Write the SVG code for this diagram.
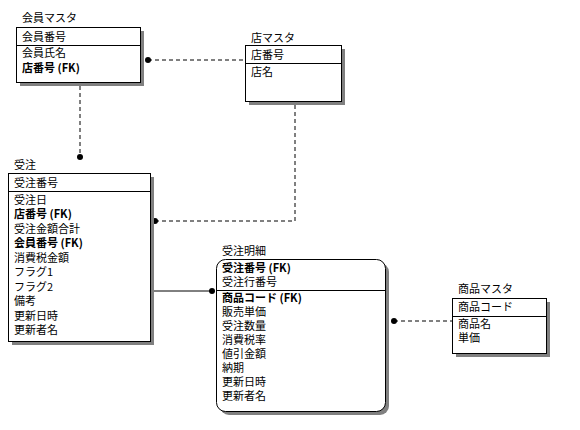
<svg xmlns="http://www.w3.org/2000/svg" width="580" height="430" viewBox="0 0 580 430">
<style>
text{font-family:"Noto Sans CJK JP","Liberation Sans",sans-serif;font-size:11px;fill:#000}
.b{font-weight:bold}
.box{fill:#fff;stroke:#000;stroke-width:1}
.sh{fill:#808080}
.dv{stroke:#000;stroke-width:1}
.dash{stroke:#000;stroke-width:1;stroke-dasharray:4,3;fill:none}
.solid{stroke:#000;stroke-width:1;fill:none}
</style>
<rect width="580" height="430" fill="#fff"/>
<g id="connectors">
<line class="dash" x1="148" y1="60" x2="245" y2="60"/><circle cx="148" cy="60" r="3"/>
<line class="dash" x1="80" y1="86" x2="80" y2="157"/><circle cx="80" cy="157" r="3"/>
<polyline class="dash" points="295,105 295,221 155,221"/><circle cx="155" cy="221" r="3"/>
<line class="solid" x1="150" y1="291" x2="212" y2="291"/><circle cx="212" cy="291" r="3"/>
<line class="dash" x1="394" y1="321" x2="452" y2="321"/><circle cx="394" cy="321" r="3"/>
</g>
<g id="kaiin">
<text x="22" y="22">会員マスタ</text>
<rect class="sh" x="20" y="31" width="124" height="55"/>
<rect class="box" x="16.5" y="27.5" width="124" height="55"/>
<line class="dv" x1="16.5" y1="45.5" x2="140.5" y2="45.5"/>
<text x="22" y="41">会員番号</text>
<text x="22" y="57">会員氏名</text>
<text x="22" y="72" class="b">店番号 (FK)</text>
</g>
<g id="mise">
<text x="251" y="42">店マスタ</text>
<rect class="sh" x="249" y="49" width="96" height="56"/>
<rect class="box" x="245.5" y="45.5" width="96" height="56"/>
<line class="dv" x1="245.5" y1="63.5" x2="341.5" y2="63.5"/>
<text x="251" y="59">店番号</text>
<text x="251" y="76">店名</text>
</g>
<g id="juchu">
<text x="14" y="169">受注</text>
<rect class="sh" x="12" y="177" width="142" height="168"/>
<rect class="box" x="8.5" y="173.5" width="142" height="168"/>
<line class="dv" x1="8.5" y1="191.5" x2="150.5" y2="191.5"/>
<text x="14" y="187">受注番号</text>
<text x="14" y="204">受注日</text>
<text x="14" y="218" class="b">店番号 (FK)</text>
<text x="14" y="233">受注金額合計</text>
<text x="14" y="247" class="b">会員番号 (FK)</text>
<text x="14" y="262">消費税金額</text>
<text x="14" y="276">フラグ1</text>
<text x="14" y="291">フラグ2</text>
<text x="14" y="305">備考</text>
<text x="14" y="320">更新日時</text>
<text x="14" y="334">更新者名</text>
</g>
<g id="meisai">
<text x="222" y="255">受注明細</text>
<rect class="sh" x="220" y="263" width="169" height="152" rx="9"/>
<rect class="box" x="216.5" y="259.5" width="169" height="152" rx="9"/>
<line class="dv" x1="216.5" y1="290.5" x2="385.5" y2="290.5"/>
<text x="222" y="272" class="b">受注番号 (FK)</text>
<text x="222" y="286">受注行番号</text>
<text x="222" y="302" class="b">商品コード (FK)</text>
<text x="222" y="316">販売単価</text>
<text x="222" y="330">受注数量</text>
<text x="222" y="344">消費税率</text>
<text x="222" y="358">値引金額</text>
<text x="222" y="372">納期</text>
<text x="222" y="386">更新日時</text>
<text x="222" y="400">更新者名</text>
</g>
<g id="shohin">
<text x="458" y="293">商品マスタ</text>
<rect class="sh" x="456" y="302" width="94" height="55"/>
<rect class="box" x="452.5" y="298.5" width="94" height="55"/>
<line class="dv" x1="452.5" y1="316.5" x2="546.5" y2="316.5"/>
<text x="458" y="311">商品コード</text>
<text x="458" y="328">商品名</text>
<text x="458" y="342">単価</text>
</g>
</svg>
